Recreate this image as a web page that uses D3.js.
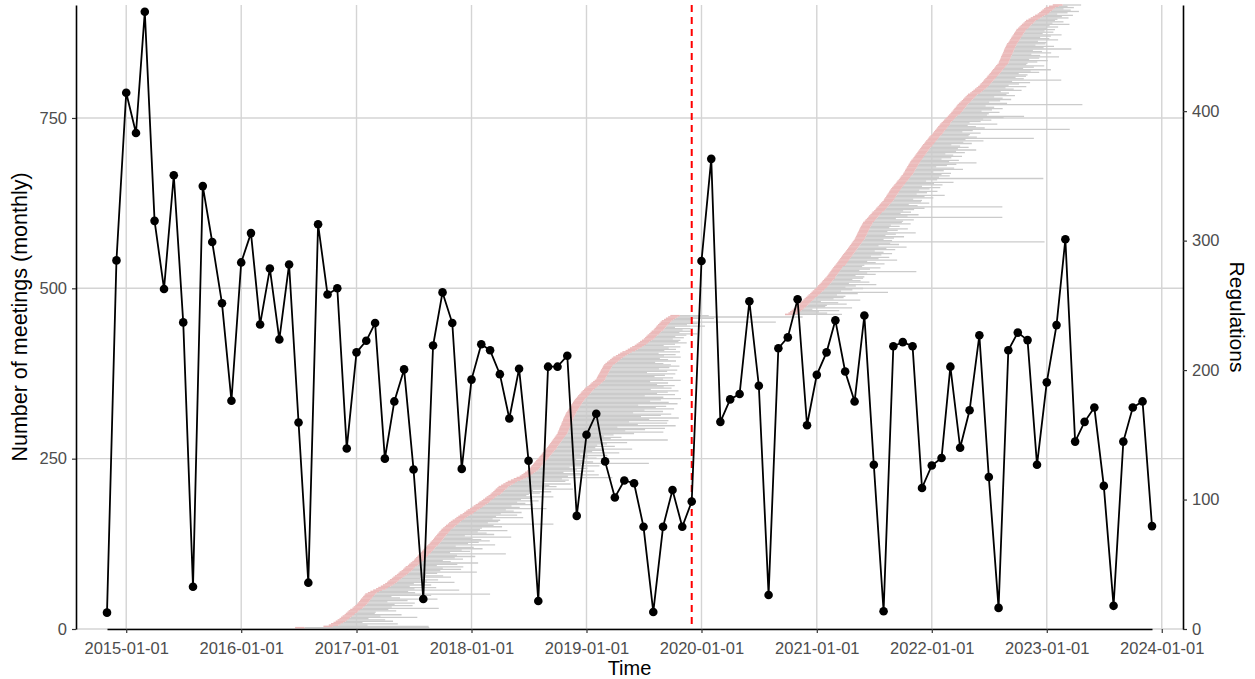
<!DOCTYPE html>

<head>
  <meta charset="utf-8">
  <title>Meetings and regulations</title>
  <style>
    body {
      margin: 0;
      background: #fff;
    }

    text {
      font-family: "Liberation Sans", Arial, sans-serif;
    }
  </style>
</head>

<body>
  <div id="viz"></div>

  <script src="https://d3js.org/d3.v7.min.js"></script>

  <script>
    // monthly number of meetings, starting Nov 2014
    let firstMonth = '2014-11';
    let meetings = [
      24, 541,
      787, 728, 906, 599, 499, 666, 450, 62, 650, 568, 478, 335,
      538, 581, 447, 529, 425, 535, 303, 68, 594, 491, 500, 265,
      406, 423, 449, 250, 334, 381, 234, 44, 416, 494, 449, 235,
      366, 418, 409, 374, 309, 382, 247, 41, 385, 385, 401, 166,
      285, 316, 246, 193, 218, 214, 150, 25, 150, 204, 150, 187,
      540, 690, 304, 337, 345, 481, 357, 50, 412, 428, 484, 299,
      373, 406, 453, 378, 334, 460, 241, 26, 415, 421, 415, 207,
      240, 251, 385, 266, 321, 431, 223, 31, 409, 435, 424, 241,
      362, 446, 572, 275, 304, 325, 210, 34, 275, 325, 334, 151
    ];

    // regulations grouped by the month they start in
    let regMonths = [
      '2016-06', '2016-09', '2016-10', '2016-11', '2016-12',
      '2017-01', '2017-02', '2017-03', '2017-04', '2017-05', '2017-06',
      '2017-07', '2017-08', '2017-09', '2017-10', '2017-11', '2017-12',
      '2018-01', '2018-02', '2018-03', '2018-04', '2018-05', '2018-06',
      '2018-07', '2018-08', '2018-09', '2018-10', '2018-11', '2018-12',
      '2019-01', '2019-02', '2019-03', '2019-04', '2019-05', '2019-06',
      '2019-07', '2019-08', '2019-09',
      '2020-09', '2020-10', '2020-11', '2020-12',
      '2021-01', '2021-02', '2021-03', '2021-04', '2021-05', '2021-06',
      '2021-07', '2021-08', '2021-09', '2021-10', '2021-11', '2021-12',
      '2022-01', '2022-02', '2022-03', '2022-04', '2022-05', '2022-06',
      '2022-07', '2022-08', '2022-09', '2022-10', '2022-11', '2022-12',
      '2023-01'
    ];

    // day of the month each regulation starts (one list per start month)
    let regDays = [
      [20], [18], [5, 12, 20, 27], [2, 8, 13, 18, 24, 28], [3, 7, 12, 19, 23, 28],
      [2, 5, 9, 12, 15, 19, 22, 26, 29], [6, 14, 23], [4, 11, 19, 26], [2, 8, 12, 17, 23, 28],
      [3, 9, 14, 18, 24, 29], [2, 6, 13, 17, 22, 27],
      [2, 5, 9, 13, 16, 20, 25, 28], [1, 5, 8, 12, 17, 21, 24, 28], [1, 4, 7, 11, 14, 18, 21, 25, 28],
      [3, 8, 12, 18, 22, 27], [2, 9, 14, 20, 26], [4, 9, 15, 20, 27],
      [3, 8, 14, 21, 26], [2, 7, 13, 18, 24], [2, 6, 11, 15, 19, 24, 28], [5, 12, 19, 26],
      [6, 15, 24], [3, 9, 15, 20, 26],
      [1, 4, 8, 11, 15, 18, 22, 25, 29], [2, 5, 8, 12, 15, 19, 22, 26, 29], [1, 4, 7, 10, 13, 16, 19, 22, 25, 28],
      [1, 2, 4, 6, 7, 9, 11, 13, 14, 16, 18, 19, 21, 23, 25, 27, 29],
      [1, 4, 6, 9, 11, 14, 17, 19, 22, 25, 28], [2, 5, 9, 13, 16, 20, 24, 28],
      [3, 8, 13, 17, 22, 27], [1, 3, 5, 7, 10, 12, 14, 16, 19, 21, 23, 26], [2, 7, 12, 17, 22, 27],
      [4, 11, 18, 25], [5, 12, 19, 26], [3, 9, 15, 20, 26],
      [2, 6, 10, 14, 19, 23, 27], [2, 5, 9, 12, 16, 20, 24, 28], [4, 10, 17, 24],
      [22], [3, 8, 13, 18, 23, 28], [2, 6, 10, 14, 19, 23, 27], [2, 6, 11, 15, 19, 24, 28],
      [2, 5, 9, 13, 17, 20, 24, 28], [1, 4, 7, 10, 13, 16, 19, 22, 25], [1, 4, 7, 10, 13, 16, 19, 22, 25, 28],
      [1, 4, 7, 10, 13, 16, 19, 22, 25, 28], [1, 3, 5, 7, 9, 11, 13, 15, 17, 19, 21, 24, 26, 28],
      [2, 5, 9, 13, 16, 20, 24, 27],
      [2, 6, 9, 13, 17, 20, 24, 28], [1, 3, 6, 9, 11, 14, 17, 19, 22, 25, 28], [1, 4, 8, 11, 14, 18, 21, 24, 27],
      [1, 3, 6, 8, 10, 13, 15, 18, 20, 23, 25, 28], [1, 4, 7, 10, 13, 16, 19, 22, 25, 28], [1, 4, 8, 11, 14, 18, 21, 24, 28],
      [2, 5, 8, 11, 15, 18, 21, 25, 28], [1, 5, 9, 13, 17, 21, 25], [1, 4, 8, 11, 14, 18, 21, 24, 28],
      [2, 6, 10, 14, 18, 22, 26], [3, 8, 13, 18, 23, 28], [2, 5, 9, 13, 16, 20, 24, 27],
      [1, 4, 8, 11, 14, 18, 21, 24, 28], [1, 2, 4, 6, 8, 9, 11, 13, 15, 17, 18, 20, 22, 24, 26, 28],
      [1, 4, 6, 9, 11, 14, 17, 19, 22, 25, 27], [2, 6, 10, 14, 19, 23, 27], [4, 11, 18, 25], [3, 8, 13, 18, 23, 28],
      [8, 20]
    ];

    // length of each regulation in months
    let regDurations = [
      [14], [11], [4, 7, 3, 6], [5, 3, 8, 4, 6, 3], [3, 5, 4, 9, 4, 6],
      [4, 6, 3, 5, 8, 4, 3, 7, 13], [5, 4, 9], [4, 6, 3, 5], [3, 7, 4, 5, 3, 6],
      [5, 3, 4, 8, 4, 6], [4, 6, 3, 5, 7, 4],
      [3, 5, 4, 6, 4, 9, 3, 5], [4, 6, 5, 3, 7, 4, 5, 6], [5, 4, 8, 3, 6, 5, 4, 7, 4],
      [4, 6, 5, 11, 4, 5], [5, 4, 7, 4, 6], [4, 6, 5, 4, 8],
      [5, 4, 6, 5, 4], [6, 4, 5, 7, 4], [4, 5, 6, 4, 8, 5, 6], [5, 7, 4, 6],
      [6, 5, 10], [5, 8, 6, 4, 7],
      [5, 6, 4, 7, 5, 12, 6, 5, 4], [6, 5, 7, 4, 8, 5, 6, 9, 5], [7, 5, 6, 8, 5, 12, 6, 7, 5, 6],
      [8, 11, 7, 9, 11, 6, 12, 8, 11, 7, 11, 9, 12, 8, 10, 11, 7],
      [10, 8, 11, 9, 10, 7, 11, 10, 8, 9, 11], [9, 7, 10, 8, 9, 10, 7, 9],
      [8, 9, 7, 8, 6, 9], [7, 8, 6, 7, 8, 5, 7, 8, 6, 7, 8, 7], [6, 5, 7, 6, 5, 7],
      [5, 6, 4, 6], [4, 5, 4, 5], [3, 4, 5, 4, 4],
      [3, 4, 3, 4, 5, 3, 4], [3, 4, 2, 5, 3, 4, 12, 3], [3, 5, 14, 4],
      [6], [4, 3, 5, 2, 6, 3], [3, 5, 4, 2, 6, 3, 4], [4, 3, 5, 8, 3, 4, 5],
      [3, 4, 6, 3, 5, 4, 3, 4], [4, 3, 5, 4, 9, 3, 4, 5, 3], [3, 5, 4, 3, 6, 4, 5, 3, 4, 5],
      [4, 3, 5, 4, 6, 3, 5, 4, 20, 4], [3, 4, 5, 3, 4, 6, 3, 4, 5, 3, 4, 3, 5, 4],
      [4, 5, 3, 14, 4, 5, 3, 4],
      [3, 4, 5, 13, 4, 3, 5, 4], [4, 3, 5, 4, 6, 3, 4, 5, 3, 4, 5], [3, 5, 4, 6, 3, 4, 15, 4, 5],
      [4, 5, 3, 4, 6, 5, 3, 4, 5, 7, 4, 5], [3, 4, 5, 4, 3, 5, 4, 6, 4, 5], [4, 3, 5, 4, 6, 4, 11, 5, 4],
      [4, 5, 3, 4, 14, 5, 4, 3, 6], [3, 4, 5, 4, 6, 8, 4], [4, 5, 3, 4, 5, 4, 3, 13, 5],
      [3, 4, 5, 4, 3, 5, 4], [4, 3, 5, 4, 3, 5], [3, 4, 5, 3, 8, 4, 3, 4],
      [4, 3, 5, 4, 6, 3, 4, 5, 3], [3, 4, 5, 3, 4, 6, 4, 3, 5, 4, 3, 7, 4, 5, 3, 4],
      [4, 3, 5, 4, 3, 4, 5, 3, 4, 3, 4], [3, 4, 3, 5, 3, 4, 3], [3, 4, 3, 4], [2, 3, 4, 3, 2, 3],
      [2, 3]
    ];

    let pinkMonths = 1;          // first part of each regulation, drawn in red
    let regFactor = 1.9;         // secondary axis: regulations = meetings / 1.9
    let markerDate = '2019-12-01';

    let yTicks = [0, 250, 500, 750];
    let regTicks = [0, 100, 200, 300, 400];
    let xTicks = ['2015-01-01', '2016-01-01', '2017-01-01', '2018-01-01', '2019-01-01',
      '2020-01-01', '2021-01-01', '2022-01-01', '2023-01-01', '2024-01-01'];

    let W = 1255, H = 679;
    let margin = { top: 5, right: 72, bottom: 50, left: 76 },
      width = W - margin.left - margin.right,
      height = H - margin.top - margin.bottom;

    let parseMonth = d3.utcParse('%Y-%m');
    let parseDay = d3.utcParse('%Y-%m-%d');

    let start = parseMonth(firstMonth);
    let series = meetings.map((v, i) => ({ date: d3.utcMonth.offset(start, i), value: v }));

    let regs = [];
    regMonths.forEach((m, gi) => {
      let month = parseMonth(m);
      regDurations[gi].forEach((len, k) => {
        let s = d3.utcDay.offset(month, regDays[gi][k] - 1);
        regs.push({
          idx: regs.length + 1,
          start: s,
          pinkEnd: d3.utcMonth.offset(s, pinkMonths),
          end: d3.utcMonth.offset(s, len)
        });
      });
    });

    let svg = d3.select('#viz')
      .append('svg')
      .attr('width', W)
      .attr('height', H)
      .append('g')
      .attr('transform', `translate(${margin.left}, ${margin.top})`);

    // x scale with a little padding like ggplot
    let pad = 31;
    let x = d3.scaleUtc()
      .domain(d3.extent(series, d => d.date))
      .range([pad, width - pad]);

    let yMax = Math.max(d3.max(meetings), regs.length * regFactor);
    let y = d3.scaleLinear()
      .domain([0, yMax])
      .range([height, 0]);

    let yReg = d3.scaleLinear()
      .domain([0, yMax / regFactor])
      .range([height, 0]);

    // grid
    let grid = svg.append('g').attr('stroke', '#d4d4d4').attr('stroke-width', 1.4);
    grid.selectAll('.gx')
      .data(xTicks.map(parseDay))
      .join('line')
      .attr('x1', d => x(d)).attr('x2', d => x(d))
      .attr('y1', 0).attr('y2', height);
    grid.selectAll('.gy')
      .data(yTicks)
      .join('line')
      .attr('x1', 0).attr('x2', width)
      .attr('y1', d => y(d)).attr('y2', d => y(d));

    // regulations
    svg.append('g')
      .selectAll('line')
      .data(regs)
      .join('line')
      .attr('x1', d => x(d.pinkEnd))
      .attr('x2', d => x(d.end))
      .attr('y1', d => y(d.idx * regFactor))
      .attr('y2', d => y(d.idx * regFactor))
      .attr('stroke', '#cbcbcb')
      .attr('stroke-width', 1.3);

    svg.append('g')
      .selectAll('line')
      .data(regs)
      .join('line')
      .attr('x1', d => x(d.start))
      .attr('x2', d => x(d.pinkEnd))
      .attr('y1', d => y(d.idx * regFactor))
      .attr('y2', d => y(d.idx * regFactor))
      .attr('stroke', '#ebbaba')
      .attr('stroke-width', 1.6);

    // marker line
    svg.append('line')
      .attr('x1', x(parseDay(markerDate)))
      .attr('x2', x(parseDay(markerDate)))
      .attr('y1', 0)
      .attr('y2', height)
      .attr('stroke', '#ff0000')
      .attr('stroke-width', 2)
      .attr('stroke-dasharray', '7,5');

    // meetings line
    svg.append('path')
      .datum(series)
      .attr('fill', 'none')
      .attr('stroke', '#000')
      .attr('stroke-width', 1.8)
      .attr('d', d3.line().x(d => x(d.date)).y(d => y(d.value)));

    svg.append('g')
      .selectAll('circle')
      .data(series)
      .join('circle')
      .attr('cx', d => x(d.date))
      .attr('cy', d => y(d.value))
      .attr('r', 4.3)
      .attr('fill', '#000');

    // axes
    function styleAxis(g) {
      g.select('.domain').attr('stroke', '#000').attr('stroke-width', 1.6);
      g.selectAll('.tick line').attr('stroke', '#333').attr('stroke-width', 1.2);
      g.selectAll('.tick text').attr('fill', '#4d4d4d').style('font-size', '16.5px');
    }

    svg.append('g')
      .call(d3.axisLeft(y).tickValues(yTicks).tickSize(4).tickSizeOuter(0).tickPadding(5))
      .call(styleAxis);

    svg.append('g')
      .attr('transform', `translate(${width}, 0)`)
      .call(d3.axisRight(yReg).tickValues(regTicks).tickSize(4).tickSizeOuter(0).tickPadding(5))
      .call(styleAxis);

    svg.append('g')
      .attr('transform', `translate(0, ${height})`)
      .call(d3.axisBottom(x).tickValues(xTicks.map(parseDay)).tickFormat(d3.utcFormat('%Y-%m-%d'))
        .tickSize(4).tickSizeOuter(0).tickPadding(9))
      .call(styleAxis);

    // titles
    svg.append('text')
      .attr('transform', `translate(${-49}, ${height / 2}) rotate(-90)`)
      .attr('text-anchor', 'middle')
      .style('font-size', '21.5px')
      .text('Number of meetings (monthly)');

    svg.append('text')
      .attr('transform', `translate(${width + 47}, ${height / 2}) rotate(90)`)
      .attr('text-anchor', 'middle')
      .style('font-size', '21px')
      .text('Regulations');

    svg.append('text')
      .attr('x', width / 2)
      .attr('y', height + 46)
      .attr('text-anchor', 'middle')
      .style('font-size', '20px')
      .text('Time');
  </script>
</body>

</html>
